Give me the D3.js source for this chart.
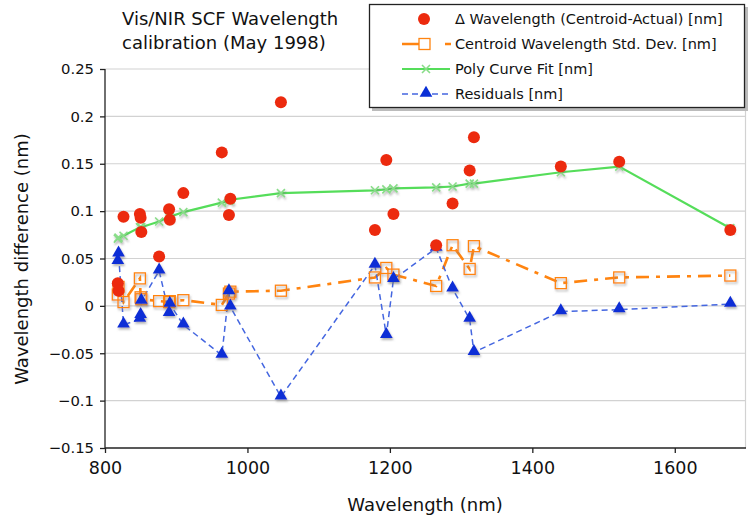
<!DOCTYPE html>
<html>
<head>
<meta charset="utf-8">
<script src="https://cdn.jsdelivr.net/npm/d3@7"></script>
<style>
  body { margin: 0; background: #fff; }
  svg { font-family: "DejaVu Sans", Verdana, sans-serif; }
</style>
</head>
<body>
<div id="chart"></div>
<script>
// Longueurs d'onde (nm), une par point de calibration
const wavelengths = [818, 819, 826, 849, 850, 851, 876, 890, 891, 910, 964, 974, 976, 1047,
   1179, 1195, 1205, 1265, 1288, 1312, 1318, 1440, 1522, 1678]
// Delta (Centroid - Actual)
const deltaValues = [0.024, 0.016, 0.094, 0.097, 0.093, 0.078, 0.052, 0.102, 0.091, 0.119, 0.162, 0.096, 0.113, 0.215,
   0.080, 0.154, 0.097, 0.064, 0.108, 0.143, 0.178, 0.147, 0.152, 0.080]
// Ecart-type du centroide
const stdDevValues = [0.012, 0.020, 0.004, 0.029, 0.009, 0.007, 0.005, 0.004, 0.005, 0.006, 0.001, 0.013, 0.015, 0.016,
   0.030, 0.040, 0.033, 0.021, 0.064, 0.039, 0.063, 0.024, 0.030, 0.032]
// Courbe polynomiale
const polyValues = [0.071, 0.072, 0.074, 0.083, 0.083, 0.083, 0.089, 0.094, 0.094, 0.099, 0.109, 0.111, 0.112, 0.119,
   0.122, 0.123, 0.124, 0.125, 0.126, 0.129, 0.129, 0.141, 0.147, 0.082]
// Residus
const residualValues = [0.047, 0.055, -0.020, -0.014, -0.010, 0.005, 0.037, -0.008, 0.002, -0.020, -0.052, 0.015, -0.001, -0.096,
   0.043, -0.031, 0.028, 0.061, 0.018, -0.014, -0.049, -0.006, -0.004, 0.002]

const xTicks = [800, 1000, 1200, 1400, 1600]
const yTicks = [-0.15, -0.1, -0.05, 0, 0.05, 0.1, 0.15, 0.2, 0.25]

const legendLabels = ["\u0394 Wavelength (Centroid-Actual) [nm]", "Centroid Wavelength Std. Dev. [nm]",
   "Poly Curve Fit [nm]", "Residuals [nm]"]

const colRed = "#ec2a0e", colOrange = "#ff8410", colGreen = "#55dd5a", colBlue = "#0a2fd6", colBlueLine = "#4466e0"

const W = 748, H = 521
const svg = d3.select("#chart").append("svg").attr("width", W).attr("height", H)

const defs = svg.append("defs")
const f = defs.append("filter").attr("id", "ombre").attr("x", "-50%").attr("y", "-50%").attr("width", "200%").attr("height", "200%")
f.append("feDropShadow").attr("dx", 1).attr("dy", 2).attr("stdDeviation", 0.8)
   .attr("flood-color", "#777").attr("flood-opacity", 0.55)

const x = d3.scaleLinear().domain([800, 1700]).range([105, 746])
const y = d3.scaleLinear().domain([-0.15, 0.25]).range([448, 69])

// Grille
svg.append("g").selectAll("line").data(yTicks.filter(t => t !== -0.15)).join("line")
   .attr("x1", 105).attr("x2", 746)
   .attr("y1", d => y(d)).attr("y2", d => y(d))
   .attr("stroke", "#d2d2d2").attr("stroke-width", 1.2)
svg.append("line").attr("x1", 745.5).attr("x2", 745.5).attr("y1", 69).attr("y2", 448)
   .attr("stroke", "#d2d2d2").attr("stroke-width", 1.2)

// Axes
const yAxis = svg.append("g").attr("transform", "translate(105,0)")
   .call(d3.axisLeft(y).tickValues(yTicks).tickSize(5).tickPadding(6).tickFormat(d => d3.format("")(+d.toFixed(2))))
const xAxis = svg.append("g").attr("transform", "translate(0,448)")
   .call(d3.axisBottom(x).tickValues(xTicks).tickSize(5).tickPadding(9).tickFormat(d3.format("d")))
xAxis.select(".domain").attr("d", "M105,0H746")
yAxis.select(".domain").attr("d", "M0,69V448")
for (const ax of [xAxis, yAxis]) {
   ax.selectAll("text").attr("fill", "#111").attr("font-family", "DejaVu Sans, sans-serif")
   ax.selectAll("line, .domain").attr("stroke", "#222").attr("stroke-width", 1.3)
}
yAxis.selectAll("text").attr("font-size", 14.8)
xAxis.selectAll("text").attr("font-size", 17.5)

// Titres
const title = svg.append("text").attr("x", 122).attr("y", 25).attr("font-size", 18).attr("fill", "#111")
title.append("tspan").attr("x", 122).text("Vis/NIR SCF Wavelength")
title.append("tspan").attr("x", 122).attr("dy", 24).text("calibration (May 1998)")

svg.append("text").attr("transform", "translate(28,259) rotate(-90)").attr("text-anchor", "middle")
   .attr("font-size", 18).attr("fill", "#111").text("Wavelength difference (nm)")
svg.append("text").attr("x", 425).attr("y", 511).attr("text-anchor", "middle")
   .attr("font-size", 18).attr("fill", "#111").text("Wavelength (nm)")

const pts = wavelengths.map((w, i) => ({w, d: deltaValues[i], s: stdDevValues[i], p: polyValues[i], r: residualValues[i]}))

const tri = d3.symbol().type(d3.symbolTriangle).size(70)
function drawX(g, cx, cy) {
   g.append("path").attr("d", `M${cx - 4},${cy - 4}L${cx + 4},${cy + 4}M${cx - 4},${cy + 4}L${cx + 4},${cy - 4}`)
      .attr("stroke", "#88dd88").attr("stroke-width", 1.6).attr("fill", "none")
}

// Courbe polynomiale
svg.append("path").datum(pts)
   .attr("d", d3.line().x(d => x(d.w)).y(d => y(d.p)))
   .attr("fill", "none").attr("stroke", colGreen).attr("stroke-width", 2.2)

// Ecart-type (tiret-point)
svg.append("path").datum(pts)
   .attr("d", d3.line().x(d => x(d.w)).y(d => y(d.s)))
   .attr("fill", "none").attr("stroke", colOrange).attr("stroke-width", 2.6)
   .attr("stroke-dasharray", "13,7,4,7")

// Residus (tirets)
svg.append("path").datum(pts)
   .attr("d", d3.line().x(d => x(d.w)).y(d => y(d.r)))
   .attr("fill", "none").attr("stroke", colBlueLine).attr("stroke-width", 1.5)
   .attr("stroke-dasharray", "6,4")

// Marqueurs
const gx = svg.append("g").attr("filter", "url(#ombre)")
pts.forEach(d => drawX(gx, x(d.w), y(d.p)))

svg.append("g").attr("filter", "url(#ombre)").selectAll("rect").data(pts).join("rect")
   .attr("x", d => x(d.w) - 5.5).attr("y", d => y(d.s) - 5.5).attr("width", 11).attr("height", 11)
   .attr("fill", "none").attr("stroke", colOrange).attr("stroke-width", 1.3)

svg.append("g").attr("filter", "url(#ombre)").selectAll("path").data(pts).join("path")
   .attr("d", tri).attr("transform", d => `translate(${x(d.w)},${y(d.r) - 1})`)
   .attr("fill", colBlue)

svg.append("g").selectAll("circle").data(pts).join("circle")
   .attr("cx", d => x(d.w)).attr("cy", d => y(d.d)).attr("r", 6)
   .attr("fill", colRed)

// Legende
const lg = svg.append("g")
lg.append("rect").attr("x", 372).attr("y", 7).attr("width", 376).attr("height", 104).attr("fill", "#bbb")
lg.append("rect").attr("x", 369.5).attr("y", 4.5).attr("width", 375).attr("height", 103)
   .attr("fill", "#fff").attr("stroke", "#222").attr("stroke-width", 1.3)

const rowsY = [19, 44, 69, 94]
legendLabels.forEach((t, i) => {
   lg.append("text").attr("x", 455).attr("y", rowsY[i] + 5).attr("font-size", 14.5).attr("fill", "#111").text(t)
})
// echantillons
lg.append("circle").attr("cx", 424).attr("cy", rowsY[0]).attr("r", 6).attr("fill", colRed)
lg.append("path").attr("d", `M402,${rowsY[1]}H452`).attr("stroke", colOrange).attr("stroke-width", 2.6)
   .attr("stroke-dasharray", "17,26,6,10").attr("fill", "none")
lg.append("rect").attr("x", 419).attr("y", rowsY[1] - 5.5).attr("width", 11).attr("height", 11)
   .attr("fill", "#fff").attr("stroke", colOrange).attr("stroke-width", 1.3)
lg.append("path").attr("d", `M402,${rowsY[2]}H450`).attr("stroke", colGreen).attr("stroke-width", 2.2)
drawX(lg, 426, rowsY[2])
lg.append("path").attr("d", `M402,${rowsY[3]}H450`).attr("stroke", colBlueLine).attr("stroke-width", 1.5)
   .attr("stroke-dasharray", "6,4")
lg.append("path").attr("d", tri).attr("transform", `translate(426,${rowsY[3] - 1})`).attr("fill", colBlue)
</script>
</body>
</html>
